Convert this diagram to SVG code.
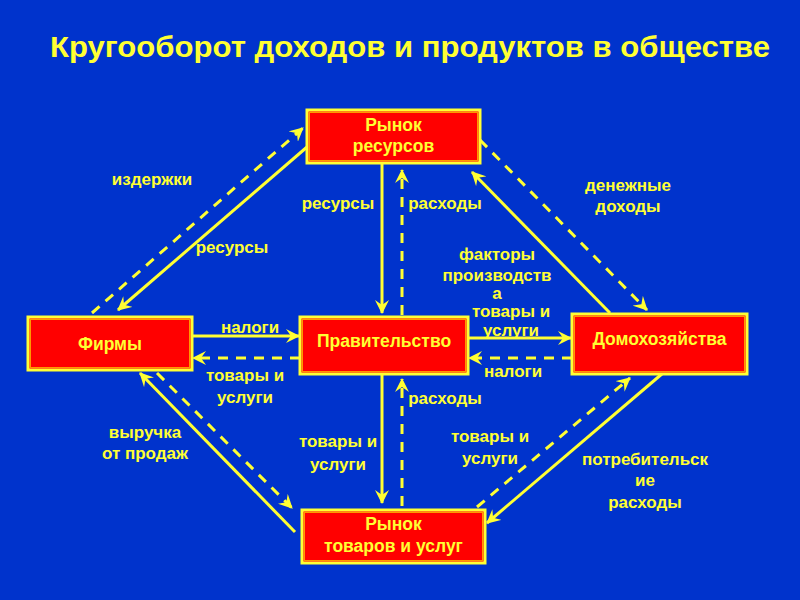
<svg xmlns="http://www.w3.org/2000/svg" width="800" height="600" viewBox="0 0 800 600">
<defs>
<marker id="ah" viewBox="0 0 14 14" refX="13" refY="7" markerWidth="14" markerHeight="14" markerUnits="userSpaceOnUse" orient="auto">
<path d="M0,0 L14,7 L0,14 L5,7 z" fill="#FFFF33"/>
</marker>
<style>
.bg{fill:#0033CC}
.box{fill:#FF0000;stroke:#FFFF33;stroke-width:3}
.inner{fill:none;stroke:#FF9900;stroke-width:1}
.bt{font-family:"Liberation Sans",Arial,sans-serif;font-weight:bold;font-size:17.5px;fill:#FFFF33;text-anchor:middle}
.lb{font-family:"Liberation Sans",Arial,sans-serif;font-weight:bold;font-size:17px;fill:#FFFF33;text-anchor:middle}
.title{font-family:"Liberation Sans",Arial,sans-serif;font-weight:bold;font-size:30px;fill:#FFFF33}
.s{stroke:#FFFF33;stroke-width:3;fill:none;marker-end:url(#ah)}
.d{stroke:#FFFF33;stroke-width:3;fill:none;stroke-dasharray:10 8;marker-end:url(#ah)}
</style>
</defs>
<rect class="bg" x="0" y="0" width="800" height="600"/>
<text class="title" x="50" y="57" textLength="720" lengthAdjust="spacingAndGlyphs">Кругооборот доходов и продуктов в обществе</text>

<g id="connectors">
<line class="s" x1="307" y1="147" x2="118" y2="310"/>
<line class="d" x1="92" y1="313" x2="303" y2="128"/>
<line class="d" x1="480" y1="140" x2="647" y2="310"/>
<line class="s" x1="610" y1="313" x2="472" y2="172"/>
<line class="s" x1="295" y1="532" x2="140" y2="373"/>
<line class="d" x1="157" y1="373" x2="292" y2="508"/>
<line class="d" x1="477" y1="507" x2="630" y2="378"/>
<line class="s" x1="663" y1="373" x2="487" y2="523"/>
<line class="s" x1="382" y1="163" x2="382" y2="313"/>
<line class="d" x1="402" y1="315" x2="402" y2="170"/>
<line class="s" x1="382" y1="374" x2="382" y2="503"/>
<line class="d" x1="402" y1="506" x2="402" y2="379"/>
<line class="s" x1="192" y1="336" x2="299" y2="336"/>
<line class="d" x1="300" y1="358" x2="193" y2="358"/>
<line class="s" x1="468" y1="338" x2="571" y2="338"/>
<line class="d" x1="572" y1="358" x2="469" y2="358"/>
</g>

<g id="market-resources">
<rect class="box" x="307" y="110" width="173" height="53"/>
<rect class="inner" x="309.5" y="112.5" width="168" height="48"/>
<text class="bt" x="393.5" y="131">Рынок</text>
<text class="bt" x="393.5" y="152">ресурсов</text>
</g>
<g id="firms">
<rect class="box" x="28" y="317" width="164" height="53"/>
<rect class="inner" x="30.5" y="319.5" width="159" height="48"/>
<text class="bt" x="110" y="350">Фирмы</text>
</g>
<g id="government">
<rect class="box" x="300" y="317" width="168" height="57"/>
<rect class="inner" x="302.5" y="319.5" width="163" height="52"/>
<text class="bt" x="384" y="347">Правительство</text>
</g>
<g id="households">
<rect class="box" x="572" y="314" width="175" height="60"/>
<rect class="inner" x="574.5" y="316.5" width="170" height="55"/>
<text class="bt" x="659.5" y="345">Домохозяйства</text>
</g>
<g id="market-goods">
<rect class="box" x="302" y="510" width="183" height="53"/>
<rect class="inner" x="304.5" y="512.5" width="178" height="48"/>
<text class="bt" x="393.5" y="530">Рынок</text>
<text class="bt" x="393.5" y="552">товаров и услуг</text>
</g>

<g id="labels">
<text class="lb" x="152" y="185">издержки</text>
<text class="lb" x="232" y="253">ресурсы</text>
<text class="lb" x="338" y="209">ресурсы</text>
<text class="lb" x="445" y="209">расходы</text>
<text class="lb" x="628" y="191">денежные</text>
<text class="lb" x="628" y="212">доходы</text>
<text class="lb" x="497" y="260">факторы</text>
<text class="lb" x="497" y="281">производств</text>
<text class="lb" x="497" y="299">а</text>
<text class="lb" x="511" y="317">товары и</text>
<text class="lb" x="511" y="336">услуги</text>
<text class="lb" x="250" y="333">налоги</text>
<text class="lb" x="245" y="381">товары и</text>
<text class="lb" x="245" y="403">услуги</text>
<text class="lb" x="513" y="377">налоги</text>
<text class="lb" x="445" y="404">расходы</text>
<text class="lb" x="338" y="447">товары и</text>
<text class="lb" x="338" y="470">услуги</text>
<text class="lb" x="490" y="442">товары и</text>
<text class="lb" x="490" y="464">услуги</text>
<text class="lb" x="145" y="438">выручка</text>
<text class="lb" x="145" y="459">от продаж</text>
<text class="lb" x="645" y="465">потребительск</text>
<text class="lb" x="645" y="486">ие</text>
<text class="lb" x="645" y="508">расходы</text>
</g>
</svg>
